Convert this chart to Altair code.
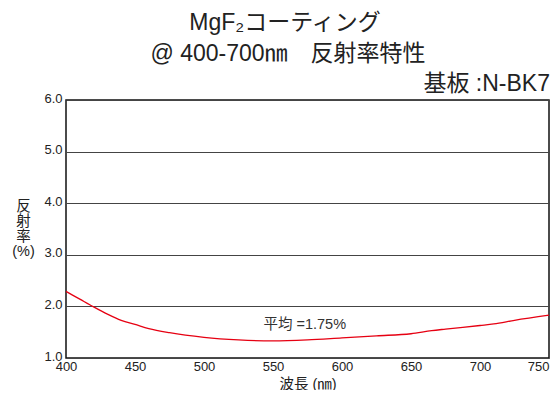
import altair as alt
import pandas as pd

FONT = "Liberation Sans, Noto Sans CJK JP"

wavelength = [400, 410, 420, 430, 440, 450, 460, 475, 500, 525, 550, 575, 600, 625, 650, 665, 675, 700, 710, 725, 750]
reflectance = [2.29, 2.14, 1.99, 1.85, 1.73, 1.65, 1.57, 1.49, 1.40, 1.35, 1.33, 1.35, 1.39, 1.43, 1.47, 1.53, 1.56, 1.63, 1.66, 1.73, 1.83]

x_ticks = [400, 450, 500, 550, 600, 650, 700, 750]
y_ticks = [1.0, 2.0, 3.0, 4.0, 5.0, 6.0]

title_line1 = "MgF₂コーティング"
title_line2 = "@ 400-700㎚　反射率特性"
title_line3 = "基板 :N-BK7"
x_title = "波長 (㎚)"
y_title = ["反", "射", "率", "(%)"]

note_text = ["平均 =1.75%"]
note_x = [573]
note_y = [1.63]

W, H = 483, 258

df = pd.DataFrame({"wl": wavelength, "r": reflectance})

line = alt.Chart(df).mark_line(color="#e60012", strokeWidth=1.3, interpolate="monotone").encode(
    x=alt.X("wl:Q", scale=alt.Scale(domain=[400, 750], nice=False, zero=False),
            axis=alt.Axis(values=x_ticks, title=x_title, grid=False, labelPadding=2,
                          labelFlush=False,
                          labelAlign=alt.condition("datum.value == 750", alt.value("right"), alt.value("center")),
                          titlePadding=4, titleFontSize=14.5,
                          titleFontWeight="normal", labelFontSize=13)),
    y=alt.Y("r:Q", scale=alt.Scale(domain=[1, 6], nice=False, zero=False),
            axis=alt.Axis(values=y_ticks, format=".1f", title=y_title, titleAngle=0,
                          titleAlign="center", titleBaseline="top", titleX=-43, titleY=99,
                          titleFontSize=14.5, titleLineHeight=15, titleFontWeight="normal",
                          labelPadding=4, labelFontSize=13, labelFlush=False, labelOffset=-2,
                          grid=True, gridColor="#444", gridWidth=1)),
)

note = alt.Chart(pd.DataFrame({"x": note_x, "y": note_y, "t": note_text})).mark_text(
    fontSize=14.5, font=FONT, color="#333", align="center", baseline="middle"
).encode(x="x:Q", y="y:Q", text="t:N")

t1 = alt.Chart(pd.DataFrame({"t": [title_line1]})).mark_text(
    fontSize=23, font=FONT, color="#222", align="center", baseline="alphabetic"
).encode(text="t:N", x=alt.value(219), y=alt.value(-70))

t2 = alt.Chart(pd.DataFrame({"t": [title_line2]})).mark_text(
    fontSize=23, font=FONT, color="#222", align="center", baseline="alphabetic"
).encode(text="t:N", x=alt.value(222), y=alt.value(-39))

t3 = alt.Chart(pd.DataFrame({"t": [title_line3]})).mark_text(
    fontSize=23, font=FONT, color="#222", align="right", baseline="alphabetic"
).encode(text="t:N", x=alt.value(484), y=alt.value(-9))

chart = alt.layer(line, note, t1, t2, t3).properties(
    width=W, height=H,
    autosize=alt.AutoSizeParams(type="none"),
    padding={"left": 58, "top": 92, "right": 1, "bottom": 32},
).configure_view(
    stroke="#111", strokeWidth=1.5
).configure_axis(
    domain=False, ticks=False, labelColor="#222", titleColor="#222",
    labelFont=FONT, titleFont=FONT
)

chart.save("out.html", embed_options={"renderer": "svg", "actions": False})
